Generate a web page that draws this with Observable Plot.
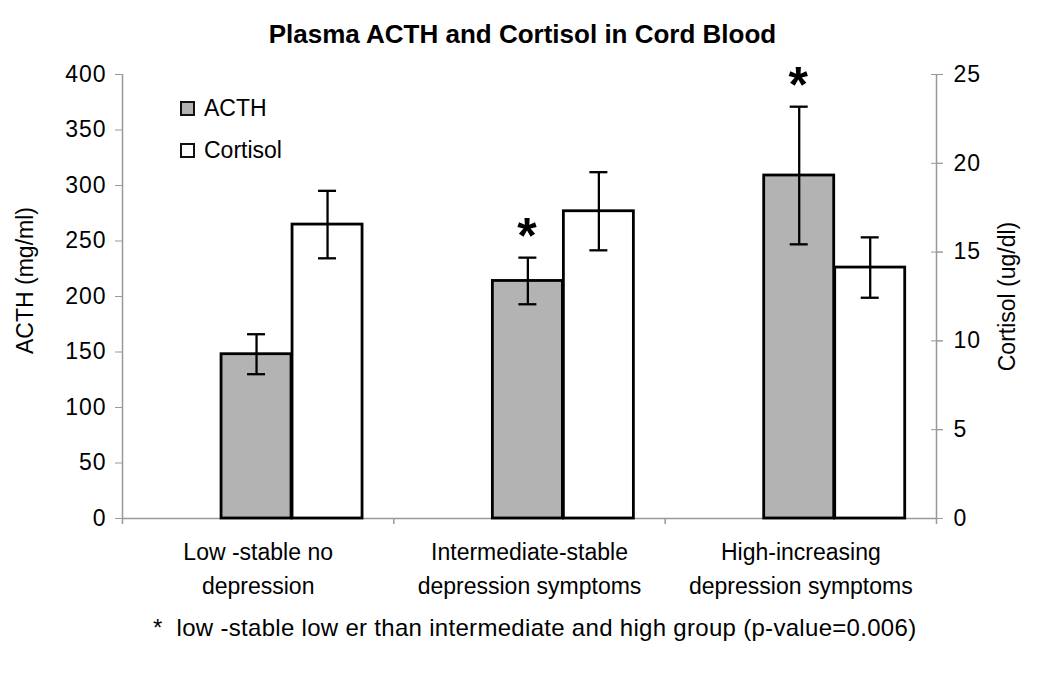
<!DOCTYPE html>
<html>
<head>
<meta charset="utf-8">
<script src="https://cdn.jsdelivr.net/npm/d3@7"></script>
<script src="https://cdn.jsdelivr.net/npm/@observablehq/plot@0.6"></script>
<style>
  html, body { margin: 0; padding: 0; background: #fff; }
  body { font-family: "Liberation Sans", Arial, sans-serif; color: #000; }
  #wrap { position: relative; width: 1050px; height: 673px; overflow: hidden; }
  #title { position: absolute; left: 0; top: 19px; width: 1045px; text-align: center; font-weight: bold; font-size: 26px; }
  #chart { position: absolute; left: 0; top: 60px; }
  #legend { position: absolute; left: 180px; top: 87px; font-size: 23px; }
  #legend .row { display: flex; align-items: center; height: 42px; }
  #legend .sw { width: 11px; height: 11px; border: 2px solid #111; margin-right: 9px; }
  #note { position: absolute; left: 153px; top: 614px; font-size: 24px; letter-spacing: 0.3px; white-space: pre; }
  #chart g[aria-label="y-axis tick label"] { letter-spacing: 1px; }
  #chart g[aria-label="axis title"] { letter-spacing: 0.6px; }
</style>
</head>
<body>
<div id="wrap">
  <div id="title"></div>
  <div id="chart"></div>
  <div id="legend"></div>
  <div id="note"></div>
</div>
<script>
// ---------- data ----------
const titleText = "Plasma ACTH and Cortisol in Cord Blood";
const groups = ["Low-stable", "Intermediate-stable", "High-increasing"];
const groupLabels = [
  ["Low -stable no", "depression"],
  ["Intermediate-stable", "depression symptoms"],
  ["High-increasing", "depression symptoms"]
];
const seriesNames = ["ACTH", "Cortisol"];
const seriesColors = ["#b3b3b3", "#ffffff"];
const acthValues = [148, 214, 309];
const acthErrors = [18, 21, 62];
const cortisolValues = [16.55, 17.3, 14.13];
const cortisolErrors = [1.9, 2.2, 1.7];
const acthStar = [false, true, true];
const acthTicks = [0, 50, 100, 150, 200, 250, 300, 350, 400];
const cortisolTicks = [0, 5, 10, 15, 20, 25];
const leftLabel = "ACTH (mg/ml)";
const rightLabel = "Cortisol (ug/dl)";
const footnote = "*  low -stable low er than intermediate and high group (p-value=0.006)";

// ---------- layout ----------
const FONT = "'Liberation Sans', Arial, Helvetica, sans-serif";
const W = 1050, H = 550, mL = 122, mR = 114, mT = 14, mB = 92;
const acthMax = acthTicks[acthTicks.length - 1];
const cortMax = cortisolTicks[cortisolTicks.length - 1];
const k = acthMax / cortMax;                       // cortisol -> ACTH-axis units
const step = (W - mL - mR) / groups.length;
const barW = 0.258 * step;
const acthStart = 0.365 * step;
const cortStart = acthStart + barW + 1;
const acthC = acthStart + barW / 2, cortC = cortStart + barW / 2;
const capHalf = 9;
const pxPerUnit = (H - mT - mB) / acthMax;
const tickExt = 6 / pxPerUnit;

const rows = groups.map((g, i) => ({
  group: g,
  acth: acthValues[i], acthErr: acthErrors[i],
  cort: cortisolValues[i] * k, cortErr: cortisolErrors[i] * k,
  star: acthStar[i]
}));

document.getElementById("title").textContent = titleText;
document.getElementById("note").textContent = footnote;
const legend = document.getElementById("legend");
seriesNames.forEach((s, i) => {
  const row = document.createElement("div"); row.className = "row";
  const sw = document.createElement("div"); sw.className = "sw"; sw.style.background = seriesColors[i];
  const t = document.createElement("span"); t.textContent = s;
  row.append(sw, t); legend.append(row);
});

const errStyle = {stroke: "#000", strokeWidth: 2.3};
const axisStroke = "#999";

const chart = Plot.plot({
  width: W, height: H,
  marginLeft: mL, marginRight: mR, marginTop: mT, marginBottom: mB,
  style: {fontFamily: FONT, fontSize: "23px", color: "#000", background: "#fff", overflow: "visible"},
  x: {type: "band", domain: groups, padding: 0, round: false, axis: null},
  y: {domain: [0, acthMax], axis: null},
  marks: [
    // baseline
    Plot.ruleY([0], {stroke: axisStroke, strokeWidth: 1.5}),
    // left & right axis lines, category boundary ticks
    Plot.ruleX([groups[0]], {x: d => d, y1: -tickExt, y2: acthMax, dx: -step / 2, stroke: axisStroke, strokeWidth: 1.5}),
    Plot.ruleX([groups[groups.length - 1]], {x: d => d, y1: -tickExt, y2: acthMax, dx: step / 2, stroke: axisStroke, strokeWidth: 1.5}),
    Plot.ruleX(groups.slice(1), {x: d => d, y1: -tickExt, y2: 0, dx: -step / 2, stroke: axisStroke, strokeWidth: 1.5}),
    // bars
    Plot.barY(rows, {x: "group", y: "acth", fill: seriesColors[0], stroke: "#000", strokeWidth: 2.8,
      insetLeft: acthStart, insetRight: step - acthStart - barW}),
    Plot.barY(rows, {x: "group", y: "cort", fill: seriesColors[1], stroke: "#000", strokeWidth: 2.8,
      insetLeft: cortStart, insetRight: step - cortStart - barW}),
    // error bars
    Plot.ruleX(rows, {x: "group", y1: d => d.acth - d.acthErr, y2: d => d.acth + d.acthErr, dx: acthC - step / 2, ...errStyle}),
    Plot.tickY(rows, {x: "group", y: d => d.acth + d.acthErr, insetLeft: acthC - capHalf, insetRight: step - acthC - capHalf, ...errStyle}),
    Plot.tickY(rows, {x: "group", y: d => d.acth - d.acthErr, insetLeft: acthC - capHalf, insetRight: step - acthC - capHalf, ...errStyle}),
    Plot.ruleX(rows, {x: "group", y1: d => d.cort - d.cortErr, y2: d => d.cort + d.cortErr, dx: cortC - step / 2, ...errStyle}),
    Plot.tickY(rows, {x: "group", y: d => d.cort + d.cortErr, insetLeft: cortC - capHalf, insetRight: step - cortC - capHalf, ...errStyle}),
    Plot.tickY(rows, {x: "group", y: d => d.cort - d.cortErr, insetLeft: cortC - capHalf, insetRight: step - cortC - capHalf, ...errStyle}),
    // significance stars
    Plot.text(rows.filter(d => d.star), {x: "group", y: d => d.acth + d.acthErr, text: () => "*",
      dx: acthC - step / 2 - 1, dy: -21, fontSize: 50, fontWeight: "bold", lineAnchor: "middle", fill: "#000"}),
    // axes
    Plot.axisY({anchor: "left", ticks: acthTicks, tickSize: 7, tickPadding: 9, stroke: axisStroke, fill: "#000",
      fontSize: 23, label: null, tickFormat: d => String(d)}),
    Plot.axisY({anchor: "right", ticks: cortisolTicks.map(v => v * k), tickSize: 12, dx: -6, stroke: axisStroke,
      tickFormat: () => "", label: null}),
    Plot.axisY({anchor: "right", ticks: cortisolTicks.map(v => v * k), tickSize: 6, tickPadding: 11, stroke: axisStroke,
      fill: "#000", fontSize: 23, label: null, tickFormat: d => String(Math.round(d / k))}),
    Plot.axisX({anchor: "bottom", tickSize: 0, tickPadding: 17, fontSize: 23, lineHeight: 1.5, label: null,
      tickFormat: d => groupLabels[groups.indexOf(d)].join("\n")}),
    // axis titles
    Plot.text([leftLabel], {frameAnchor: "left", text: d => d, rotate: -90, dx: -97, dy: -16, fontSize: 23,
      textAnchor: "middle", lineAnchor: "middle", fill: "#000", ariaLabel: "axis title"}),
    Plot.text([rightLabel], {frameAnchor: "right", text: d => d, rotate: -90, dx: 71, fontSize: 23,
      textAnchor: "middle", lineAnchor: "middle", fill: "#000", ariaLabel: "axis title"})
  ]
});
document.getElementById("chart").append(chart);
</script>
</body>
</html>
